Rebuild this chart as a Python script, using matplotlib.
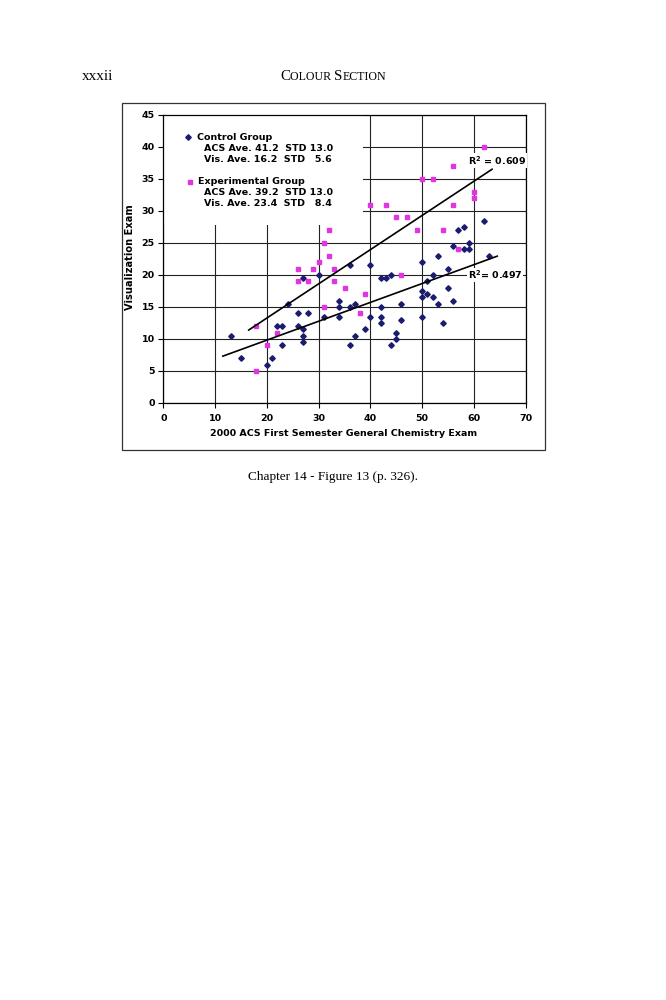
import numpy as np
import matplotlib
matplotlib.use('Agg')
import matplotlib.pyplot as plt
from matplotlib.patches import Rectangle
from matplotlib.lines import Line2D

# Control group (ACS score, visualization score)
control_acs = [13, 15, 20, 21, 22, 23, 23, 24, 26, 26, 27, 27, 27, 27, 28, 30, 31,
               34, 34, 34, 36, 36, 36, 37, 37, 39, 40, 40, 42, 42, 42, 42, 43, 44,
               44, 45, 45, 46, 46, 50, 50, 50, 50, 51, 51, 52, 52, 53, 53, 54, 55,
               55, 56, 56, 57, 58, 58, 59, 59, 62, 63]
control_vis = [10.5, 7, 6, 7, 12, 12, 9, 15.5, 14, 12, 11.5, 10.5, 9.5, 19.5, 14, 20, 13.5,
               16, 15, 13.5, 21.5, 15, 9, 15.5, 10.5, 11.5, 21.5, 13.5, 19.5, 15, 13.5, 12.5, 19.5, 20,
               9, 11, 10, 15.5, 13, 22, 17.5, 16.5, 13.5, 19, 17, 20, 16.5, 23, 15.5, 12.5, 21,
               18, 24.5, 16, 27, 27.5, 24, 25, 24, 28.5, 23]

# Experimental group
exp_acs = [18, 18, 20, 22, 26, 26, 28, 29, 30, 31, 31, 32, 32, 33, 33, 35, 38,
           39, 40, 43, 45, 46, 47, 49, 50, 52, 54, 56, 56, 57, 60, 60, 62]
exp_vis = [12, 5, 9, 11, 21, 19, 19, 21, 22, 25, 15, 27, 23, 21, 19, 18, 14,
           17, 31, 31, 29, 20, 29, 27, 35, 35, 27, 37, 31, 24, 33, 32, 40]

control_stats = ['ACS Ave. 41.2  STD 13.0', 'Vis. Ave. 16.2  STD   5.6']
exp_stats = ['ACS Ave. 39.2  STD 13.0', 'Vis. Ave. 23.4  STD   8.4']

W, H = 666, 1000


def fx(px):
    return px / W


def fy(py):
    return 1 - py / H


fig = plt.figure(figsize=(6.66, 10), dpi=100)
ax = fig.add_axes([fx(163.3), fy(403), (525.7 - 163.3) / W, (403 - 115) / H])

# page furniture
serif = 'Liberation Serif'
fig.text(fx(82), fy(80.5), 'xxxii', family=serif, fontsize=11, va='baseline', ha='left')
renderer = fig.canvas.get_renderer()
parts = [('C', 10.8), ('OLOUR ', 8.6), ('S', 10.8), ('ECTION', 8.6)]
widths = []
for s, fs in parts:
    t = fig.text(0, 0, s, family=serif, fontsize=fs)
    widths.append(t.get_window_extent(renderer).width)
    t.remove()
x0 = 333 - sum(widths) / 2
for (s, fs), w in zip(parts, widths):
    fig.text(fx(x0), fy(80.5), s, family=serif, fontsize=fs, va='baseline', ha='left')
    x0 += w
fig.text(fx(333.5), fy(477), 'Chapter 14 - Figure 13 (p. 326).', family=serif,
         fontsize=9.5, ha='center', va='center')

# outer frame
fig.add_artist(Rectangle((fx(122), fy(450)), (545 - 122) / W, (450 - 103) / H,
                         transform=fig.transFigure, fill=False, edgecolor='#333333',
                         linewidth=0.9))

# scatter points
ax.plot(control_acs, control_vis, linestyle='none', marker='D', markersize=2.8,
        color='#1c1c6e', zorder=3)
ax.plot(exp_acs, exp_vis, linestyle='none', marker='s', markersize=3.3,
        color='#e035e0', zorder=3)

# linear trendlines
for xs, ys in [(control_acs, control_vis), (exp_acs, exp_vis)]:
    m, b = np.polyfit(xs, ys, 1)
    xl = np.array([min(xs) - 1.5, max(xs) + 1.5])
    ax.plot(xl, m * xl + b, color='black', linewidth=1.2, zorder=4)

ax.text(58.8, 37.9, r'R$^\mathbf{2}$ = 0.609', fontsize=6.8, fontweight='bold', va='center',
        ha='left', zorder=5, bbox=dict(facecolor='white', edgecolor='none', pad=0.6))
ax.text(58.8, 20.0, r'R$^\mathbf{2}$= 0.497', fontsize=6.8, fontweight='bold', va='center',
        ha='left', zorder=5, bbox=dict(facecolor='white', edgecolor='none', pad=0.6))

ax.set_xlim(0, 70)
ax.set_ylim(0, 45)
ax.set_xticks(range(0, 71, 10))
ax.set_yticks(range(0, 46, 5))
ax.set_axisbelow(True)
ax.grid(True, color='#222222', linewidth=0.8)
# blank area behind the legend text
ax.add_patch(Rectangle((0.2, 27.8), 38.4, 17.0, facecolor='white', edgecolor='none', zorder=1))

for s in ax.spines.values():
    s.set_linewidth(0.9)
ax.tick_params(direction='out', length=3.6, width=0.8, labelsize=6.8, pad=2.6)
ax.tick_params(axis='x', pad=4)
for lab in ax.get_xticklabels() + ax.get_yticklabels():
    lab.set_fontweight('bold')

fig.text(fx(344), fy(433.5), '2000 ACS First Semester General Chemistry Exam',
         fontsize=6.8, fontweight='bold', ha='center', va='center')
fig.text(fx(130), fy(257.5), 'Visualization Exam', fontsize=7.1, fontweight='bold',
         rotation=90, ha='center', va='center')

# legend block
fig.add_artist(Line2D([fx(188)], [fy(137.3)], marker='D', markersize=2.8, color='#1c1c6e',
                      transform=fig.transFigure))
fig.add_artist(Line2D([fx(190)], [fy(181.7)], marker='s', markersize=3.3, color='#e035e0',
                      transform=fig.transFigure))
fig.text(fx(197), fy(137.3), 'Control Group', fontsize=6.8, fontweight='bold', va='center')
fig.text(fx(204), fy(148.3), control_stats[0], fontsize=6.8, fontweight='bold', va='center')
fig.text(fx(204), fy(160), control_stats[1], fontsize=6.8, fontweight='bold', va='center')
fig.text(fx(198), fy(181.7), 'Experimental Group', fontsize=6.8, fontweight='bold', va='center')
fig.text(fx(204), fy(192.7), exp_stats[0], fontsize=6.8, fontweight='bold', va='center')
fig.text(fx(204), fy(204), exp_stats[1], fontsize=6.8, fontweight='bold', va='center')

plt.savefig('out.png', dpi=100)
